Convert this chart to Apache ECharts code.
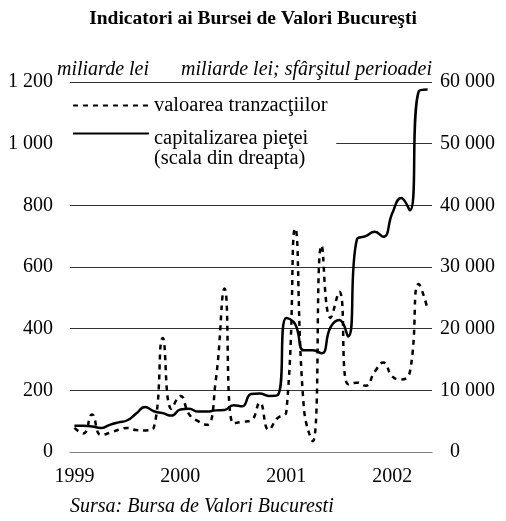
<!DOCTYPE html>
<html>
<head>
<meta charset="utf-8">
<script src="https://cdn.jsdelivr.net/npm/echarts@6/dist/echarts.min.js"></script>
<style>
  html, body { margin: 0; padding: 0; background: #fff; }
  #main { width: 506px; height: 521px; }
</style>
</head>
<body>
<div id="main"></div>
<script>
var months = ['1999-01','1999-02','1999-03','1999-04','1999-05','1999-06','1999-07','1999-08','1999-09','1999-10','1999-11','1999-12',
  '2000-01','2000-02','2000-03','2000-04','2000-05','2000-06','2000-07','2000-08','2000-09','2000-10','2000-11','2000-12',
  '2001-01','2001-02','2001-03','2001-04','2001-05','2001-06','2001-07','2001-08','2001-09','2001-10','2001-11','2001-12',
  '2002-01','2002-02','2002-03','2002-04','2002-05']
// valoarea tranzactiilor, miliarde lei (scala stanga)
var tranzactii = [78, 60, 122, 55, 62, 72, 78, 71, 70, 80, 370, 140,
  182, 122, 100, 88, 230, 530, 93, 98, 102, 160, 72, 110,
  130, 725, 140, 35, 670, 435, 520, 220, 225, 215, 260, 290,
  245, 235, 260, 545, 465]
// capitalizarea pietei, miliarde lei (scala dreapta)
var capitalizare = [4250, 4250, 4150, 3900, 4400, 4800, 5150, 6250, 7300, 6600, 6300, 5900,
  6900, 7000, 6550, 6550, 6750, 6800, 7600, 7400, 9400, 9500, 9100, 9200,
  21750, 20750, 16500, 16500, 16000, 20200, 21400, 18750, 34500, 35000, 35700, 34900,
  38700, 41200, 39200, 58500, 58800]

var font = '"Liberation Serif", "Times New Roman", serif'

function fmt(v) {
  return String(v).replace(/\B(?=(\d{3})+(?!\d))/g, ' ')
}

var chart = echarts.init(document.getElementById('main'))
var option = {
  backgroundColor: '#fff',
  animation: false,
  title: [{
    text: 'Indicatori ai Bursei de Valori Bucureşti',
    left: 'center', top: 8, padding: 0,
    textStyle: { fontFamily: font, fontSize: 19.5, fontWeight: 'bold', color: '#000', lineHeight: 22 }
  }, {
    text: 'miliarde lei',
    left: 57, top: 59, padding: 0,
    textStyle: { fontFamily: font, fontSize: 20, fontStyle: 'italic', fontWeight: 'normal', color: '#000', lineHeight: 22 }
  }, {
    text: 'miliarde lei; sfârşitul perioadei',
    right: 74, top: 59, padding: 0,
    textStyle: { fontFamily: font, fontSize: 20, fontStyle: 'italic', fontWeight: 'normal', color: '#000', lineHeight: 22 }
  }, {
    text: 'Sursa: Bursa de Valori Bucuresti',
    left: 70, top: 496, padding: 0,
    textStyle: { fontFamily: font, fontSize: 20, fontStyle: 'italic', fontWeight: 'normal', color: '#000', lineHeight: 22 }
  }],
  legend: [{
    data: ['valoarea tranzacţiilor'],
    left: 70, top: 95, padding: [0, 0, 0, 2],
    itemWidth: 76, itemHeight: 14, z: 6,
    itemStyle: { opacity: 0 },
    textStyle: { fontFamily: font, fontSize: 20.5, color: '#000', lineHeight: 20 }
  }, {
    data: ['capitalizarea pieţei'],
    formatter: function (name) { return '{s| }\n{t|' + name + '}\n{t|(scala din dreapta)}' },
    left: 70, top: 103, padding: [0, 28, 6, 2],
    backgroundColor: '#fff',
    itemWidth: 76, itemHeight: 14, z: 5,
    itemStyle: { opacity: 0 },
    textStyle: {
      fontFamily: font, fontSize: 20.5, color: '#000',
      rich: {
        s: { fontFamily: font, fontSize: 20.5, lineHeight: 30 },
        t: { fontFamily: font, fontSize: 20.5, color: '#000', lineHeight: 20 }
      }
    }
  }],
  grid: { left: 70, right: 74, top: 82, bottom: 69, containLabel: false },
  xAxis: {
    type: 'category',
    data: months,
    boundaryGap: true,
    axisLine: { lineStyle: { color: '#808080', width: 1 } },
    axisTick: { interval: 11, length: 5, lineStyle: { color: '#808080' } },
    axisLabel: {
      interval: 11, margin: 15,
      formatter: function (v) { return v.slice(0, 4) },
      fontFamily: font, fontSize: 20, color: '#000', lineHeight: 20
    },
    splitLine: { show: false }
  },
  yAxis: [{
    type: 'value', min: 0, max: 1200, interval: 200, position: 'left',
    axisLine: { show: false }, axisTick: { show: false },
    splitLine: { lineStyle: { color: ['#808080', '#333', '#333', '#333', '#333', '#333', '#333'], width: 1 } },
    axisLabel: { margin: 17, formatter: fmt, fontFamily: font, fontSize: 20, color: '#000' }
  }, {
    type: 'value', min: 0, max: 60000, interval: 10000, position: 'right',
    axisLine: { show: false }, axisTick: { show: false },
    splitLine: { show: false },
    axisLabel: {
      margin: 8,
      formatter: function (v) { return v === 0 ? '  0' : fmt(v) },
      fontFamily: font, fontSize: 20, color: '#000'
    }
  }],
  series: [{
    name: 'valoarea tranzacţiilor',
    type: 'line',
    yAxisIndex: 0,
    data: tranzactii,
    smooth: 0.5,
    symbol: 'none',
    lineStyle: { color: '#000', width: 2.5, type: [5, 5] },
    itemStyle: { color: '#000' }
  }, {
    name: 'capitalizarea pieţei',
    type: 'line',
    yAxisIndex: 1,
    data: capitalizare,
    smooth: 0.5,
    symbol: 'none',
    lineStyle: { color: '#000', width: 2.5, type: 'solid' },
    itemStyle: { color: '#000' }
  }]
}
chart.setOption(option)
</script>
</body>
</html>
